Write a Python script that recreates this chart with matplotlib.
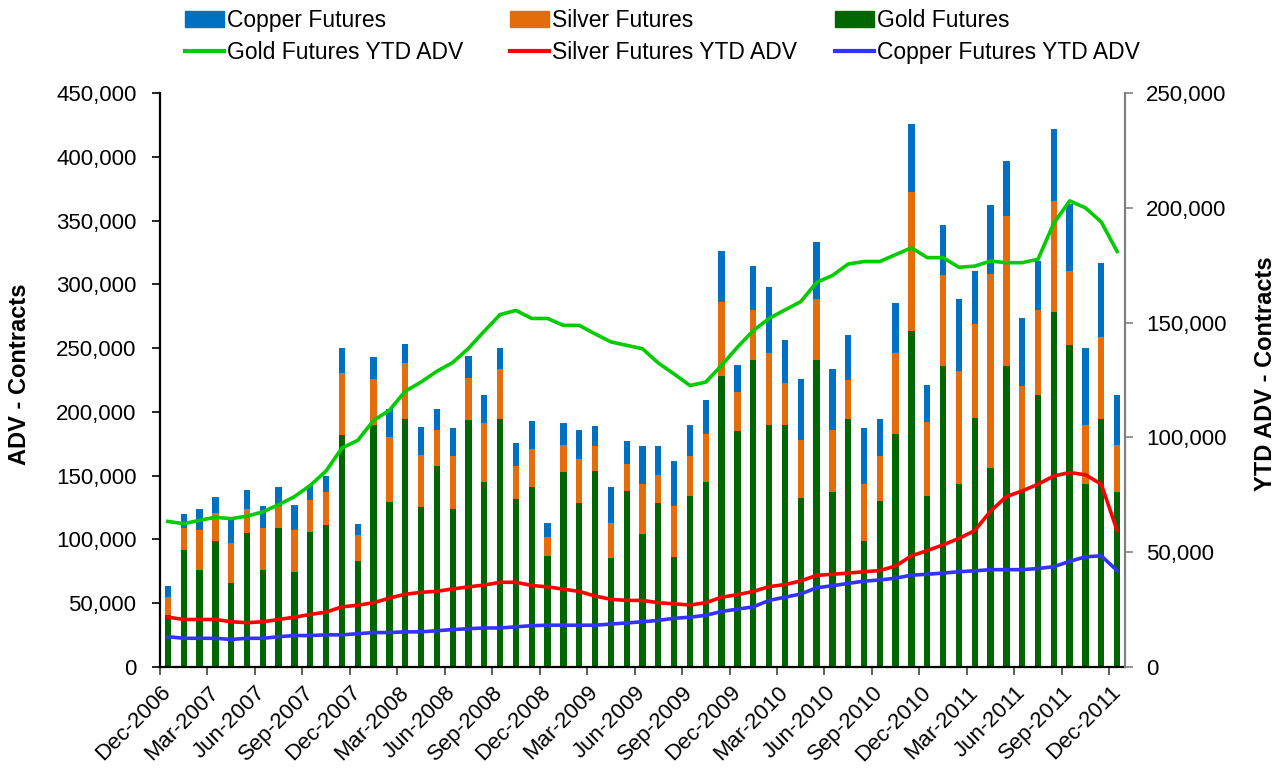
import matplotlib
matplotlib.use("Agg")
import matplotlib.pyplot as plt
from matplotlib.ticker import FuncFormatter, FixedLocator
from matplotlib.patches import Patch
from matplotlib.lines import Line2D
import numpy as np

plt.rcParams['font.family'] = ['Liberation Sans', 'DejaVu Sans']

# Monthly ADV (contracts), Dec-2006 .. Dec-2011 (61 months)
gold = [41.1, 91.5, 75.9, 98.8, 65.7, 105.0, 75.9, 108.6, 74.1, 106.2, 111.6, 181.5, 83.4, 190.0, 129.7,
        194.8, 125.2, 157.9, 124.0, 193.9, 145.3, 194.8, 131.5, 140.8, 86.8, 152.8, 128.2, 153.4, 85.3,
        138.1, 104.2, 128.8, 85.9, 134.2, 145.3, 227.9, 184.9, 240.5, 190.0, 190.0, 132.4, 240.5, 136.9,
        194.8, 98.8, 130.0, 182.5, 263.3, 134.2, 236.0, 143.2, 195.4, 156.4, 236.0, 137.2, 213.1, 278.3,
        252.2, 143.2, 194.8, 136.9]
silver = [14.1, 17.1, 31.2, 21.9, 31.5, 19.2, 33.3, 18.0, 33.6, 24.6, 25.5, 48.9, 19.8, 35.7, 50.4,
          43.5, 41.1, 27.6, 41.4, 33.0, 45.9, 38.5, 25.8, 30.3, 15.0, 21.0, 34.8, 19.5, 27.3,
          21.0, 39.6, 21.9, 40.2, 31.2, 37.2, 58.5, 30.9, 39.3, 55.9, 33.0, 45.9, 47.7, 48.9,
          30.4, 45.0, 35.7, 63.7, 108.7, 57.9, 71.4, 89.2, 73.6, 151.9, 117.3, 83.4, 67.0, 86.7,
          57.9, 46.2, 64.0, 36.9]
copper = [8.4, 11.1, 17.1, 12.9, 18.0, 14.2, 17.1, 14.2, 19.5, 12.2, 12.9, 19.8, 9.3, 17.7, 22.5,
          15.0, 21.9, 16.8, 21.9, 17.1, 21.9, 16.5, 18.3, 21.9, 10.8, 17.4, 22.8, 16.2, 28.2,
          18.3, 29.7, 22.2, 35.7, 24.6, 27.0, 39.9, 21.1, 34.8, 52.2, 33.7, 47.5, 44.7, 48.1,
          34.8, 43.5, 29.1, 39.3, 54.0, 29.1, 39.0, 56.4, 41.1, 53.7, 43.6, 52.9, 38.4, 56.5,
          53.1, 60.4, 58.2, 39.3]

# YTD ADV (contracts), right axis
gold_ytd = [63.4, 62.4, 63.9, 65.2, 64.6, 65.7, 67.6, 70.7, 74.2, 79.1, 85.4, 95.4, 98.7, 107.4, 111.8,
            120.1, 124.1, 128.8, 132.6, 138.8, 146.3, 153.5, 155.3, 151.8, 151.8, 148.8, 148.8, 145.1,
            141.6, 140.1, 138.6, 132.4, 127.6, 122.6, 124.1, 131.4, 139.3, 146.5, 151.8, 155.5, 159.1,
            167.5, 170.5, 175.5, 176.6, 176.6, 179.6, 182.6, 178.3, 178.3, 174.1, 174.6, 176.8, 176.1,
            176.1, 177.6, 193.3, 203.0, 200.0, 193.8, 181.0]
silver_ytd = [21.7, 20.7, 20.7, 20.7, 19.7, 19.3, 19.7, 20.7, 21.7, 22.9, 23.9, 26.2, 26.9, 28.0, 30.0,
              31.7, 32.5, 33.0, 34.0, 34.9, 35.7, 36.9, 36.9, 35.5, 34.9, 33.9, 32.9, 30.9, 29.5, 29.0,
              29.0, 28.0, 27.5, 27.0, 28.0, 30.4, 31.5, 32.9, 35.0, 35.9, 37.5, 39.9, 40.4, 40.9, 41.5,
              42.0, 44.0, 48.4, 50.7, 53.2, 56.0, 59.4, 67.9, 74.2, 76.7, 79.6, 83.2, 84.7, 83.7, 79.6, 59.5]
copper_ytd = [13.2, 12.5, 12.5, 12.5, 12.0, 12.5, 12.5, 13.2, 13.7, 13.7, 14.0, 14.0, 14.5, 15.0, 15.0,
              15.3, 15.3, 15.8, 16.3, 16.7, 17.0, 17.0, 17.5, 18.0, 18.2, 18.2, 18.2, 18.2, 18.7, 19.2,
              19.7, 20.3, 21.2, 21.7, 22.5, 24.2, 25.2, 26.2, 29.0, 30.4, 31.8, 34.5, 35.4, 36.4, 37.4,
              37.9, 38.7, 40.0, 40.4, 40.9, 41.5, 41.9, 42.4, 42.4, 42.4, 42.9, 43.7, 46.0, 48.0, 48.4, 42.0]

tick_labels = ["Dec-2006", "Mar-2007", "Jun-2007", "Sep-2007", "Dec-2007", "Mar-2008", "Jun-2008",
               "Sep-2008", "Dec-2008", "Mar-2009", "Jun-2009", "Sep-2009", "Dec-2009", "Mar-2010",
               "Jun-2010", "Sep-2010", "Dec-2010", "Mar-2011", "Jun-2011", "Sep-2011", "Dec-2011"]

C_COPPER = '#0070C0'
C_SILVER = '#E46C0A'
C_GOLD = '#006600'
C_GOLD_L = '#00CC00'
C_SILVER_L = '#FF0000'
C_COPPER_L = '#3333FF'

g = np.array(gold) * 1000
s = np.array(silver) * 1000
c = np.array(copper) * 1000
x = np.arange(len(gold))

fig = plt.figure(figsize=(12.86, 7.70), dpi=100)
ax = fig.add_axes([160 / 1286, 1 - 667 / 770, 965 / 1286, 574 / 770])

w = 0.4
ax.bar(x, g, w, color=C_GOLD, linewidth=0)
ax.bar(x, s, w, bottom=g, color=C_SILVER, linewidth=0)
ax.bar(x, c, w, bottom=g + s, color=C_COPPER, linewidth=0)

ax.set_xlim(-0.5, len(x) - 0.5)
ax.set_ylim(0, 450000)
ax.set_yticks(np.arange(0, 450001, 50000))
fmt = FuncFormatter(lambda v, p: f"{int(v):,}")
ax.yaxis.set_major_formatter(fmt)
ax.tick_params(axis='y', labelsize=16, length=6, width=1.2, pad=11, colors='black')

ax.set_xticks(np.arange(0, len(x), 3))
ax.set_xticklabels(tick_labels, rotation=45, ha='right', va='center', rotation_mode='anchor', fontsize=16)
ax.tick_params(axis='x', which='major', length=0, pad=16)
ax.xaxis.set_minor_locator(FixedLocator(np.arange(-0.5, len(x) - 1, 3)))
ax.tick_params(axis='x', which='minor', length=6, width=1.2, color='#444444')

for sp in ['top', 'right']:
    ax.spines[sp].set_visible(False)
ax.spines['left'].set_linewidth(1.6)
ax.spines['bottom'].set_linewidth(1.6)

ax2 = ax.twinx()
ax2.plot(x, np.array(gold_ytd) * 1000, color=C_GOLD_L, lw=2.6)
ax2.plot(x, np.array(silver_ytd) * 1000, color=C_SILVER_L, lw=2.6)
ax2.plot(x, np.array(copper_ytd) * 1000, color=C_COPPER_L, lw=2.6)
ax2.set_ylim(0, 250000)
ax2.set_yticks(np.arange(0, 250001, 50000))
ax2.yaxis.set_major_formatter(fmt)
ax2.tick_params(axis='y', labelsize=16, length=6, width=1.2, pad=9, color='#808080', labelcolor='black')
for sp in ['top', 'left', 'bottom']:
    ax2.spines[sp].set_visible(False)
ax2.spines['right'].set_color('#808080')
ax2.spines['right'].set_linewidth(1.6)

fig.text(20 / 1286, 1 - 374 / 770, 'ADV - Contracts', rotation=90, ha='center', va='center',
         fontsize=17, fontweight='bold')
fig.text(1266 / 1286, 1 - 374 / 770, 'YTD ADV - Contracts', rotation=90, ha='center', va='center',
         fontsize=17, fontweight='bold')

cols = [
    (185, [Patch(color=C_COPPER), Line2D([], [], color=C_GOLD_L, lw=3)], ['Copper Futures', 'Gold Futures YTD ADV']),
    (510, [Patch(color=C_SILVER), Line2D([], [], color=C_SILVER_L, lw=3)], ['Silver Futures', 'Silver Futures YTD ADV']),
    (835, [Patch(color=C_GOLD), Line2D([], [], color=C_COPPER_L, lw=3)], ['Gold Futures', 'Copper Futures YTD ADV']),
]
for xp, hs, ls in cols:
    fig.legend(hs, ls, loc='upper left', bbox_to_anchor=(xp / 1286, 1 - 9 / 770), frameon=False,
               fontsize=16.5, handlelength=1.7, handletextpad=0.15, labelspacing=0.4,
               borderpad=0, borderaxespad=0)

fig.savefig('out.png', dpi=100)
